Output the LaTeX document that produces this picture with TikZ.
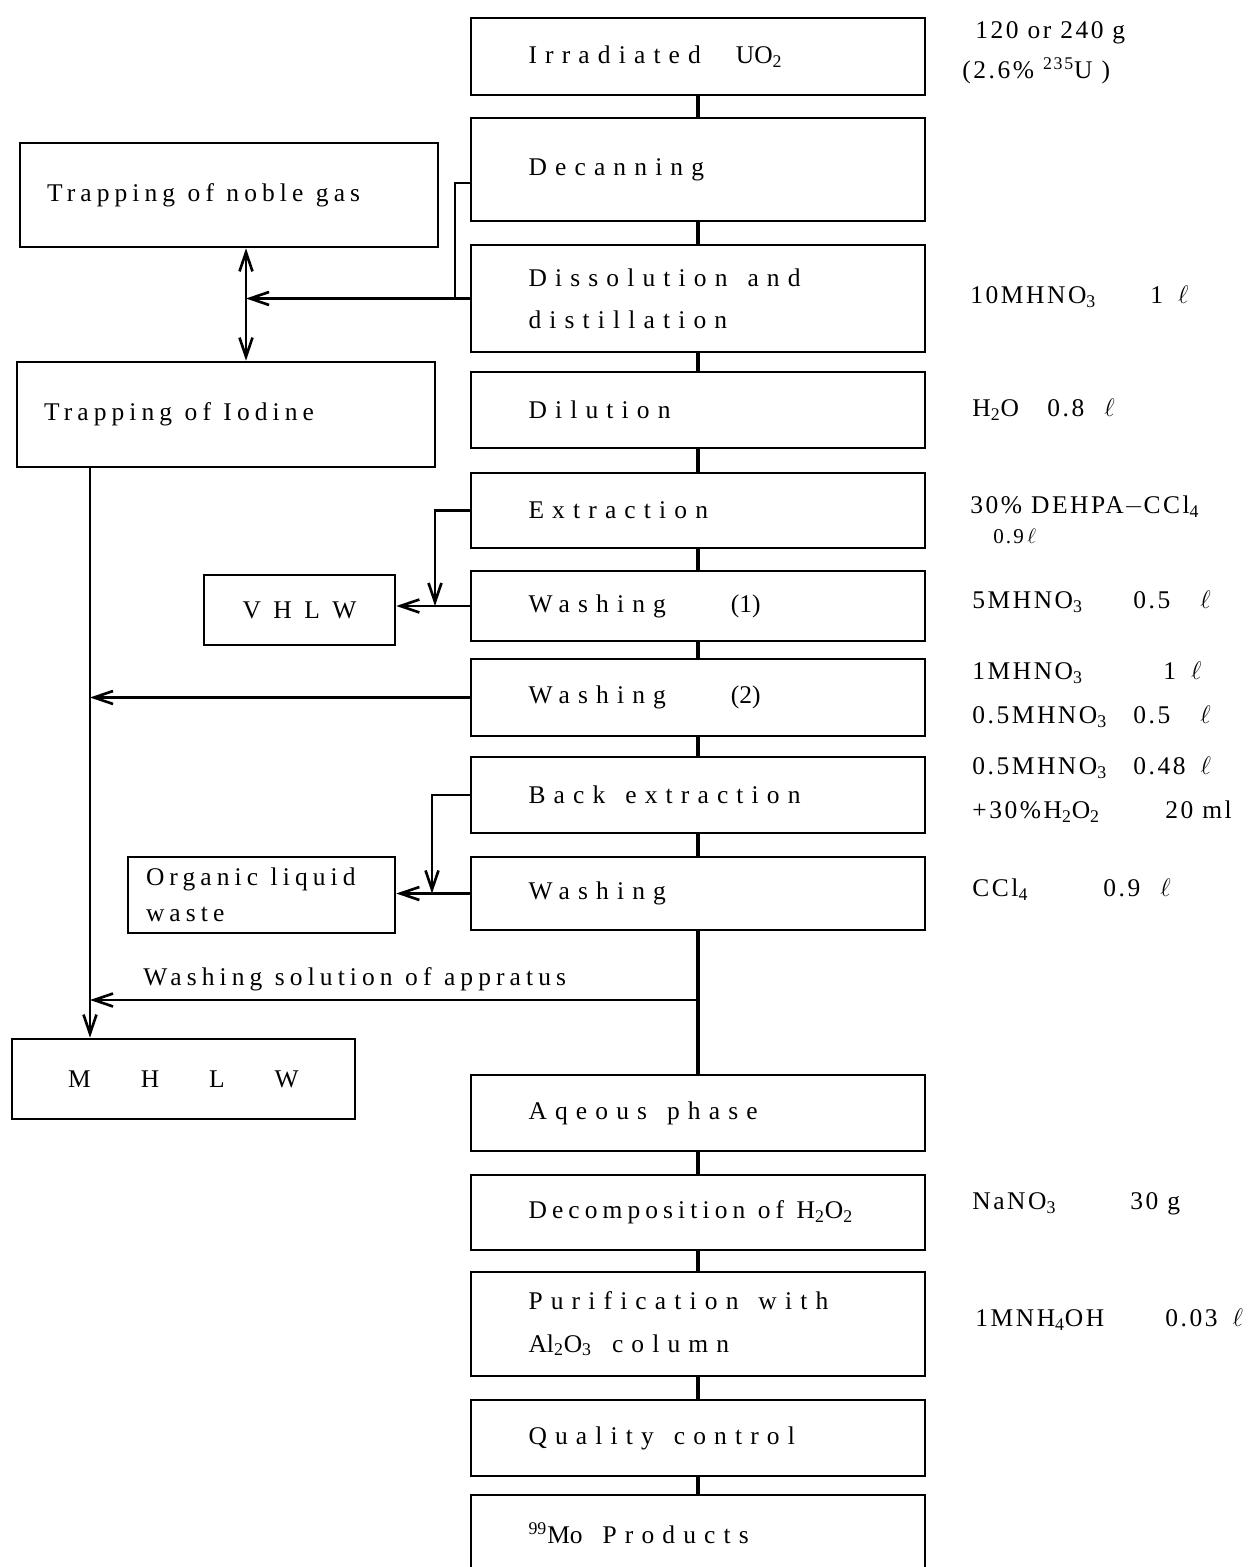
\documentclass[tikz,border=0pt]{standalone}
\usepackage{fontspec}
\setmainfont{Liberation Serif}
\newfontfamily\boxfont[LetterSpace=32]{Liberation Serif}
\newfontfamily\sidefont[LetterSpace=20]{Liberation Serif}
\newfontfamily\notefont[LetterSpace=10]{Liberation Serif}
\usetikzlibrary{arrows.meta}
\newcommand{\lowr}[1]{\textsubscript{#1}}
\newcommand{\litre}{$\ell$}
\newcommand{\bsp}{\hspace{0.4cm}}
\newcommand{\ssp}{\hspace{0.25cm}}
\tikzset{
	procbox/.style={draw,line width=1.5pt,minimum width=9.08cm,text width=6.78cm,inner xsep=1.15cm,align=left,font=\boxfont\fontsize{14.5pt}{24pt}\selectfont},
	wastebox/.style={draw,line width=1.5pt,font=\sidefont\fontsize{14.5pt}{20.5pt}\selectfont},
	note/.style={anchor=west,inner sep=0pt,align=left,font=\notefont\fontsize{14.5pt}{25pt}\selectfont},
	link/.style={line width=1.5pt},
	trunk/.style={line width=2pt}
}
\begin{document}
\begin{tikzpicture}[x=0.02cm,y=-0.02cm,>={Straight Barb[length=3.8mm,width=2.6mm]}]
	\useasboundingbox (0,0) rectangle (1251,1567);

	% draw main process column
	\node (uo2) at (698,56.5) [procbox,minimum height=1.54cm] {Irradiated\hspace{0.7cm}{\normalfont UO\lowr{2}}};
	\node (dec) at (698,169.5) [procbox,minimum height=2.06cm] {Decanning};
	\node (diss) at (698,298.5) [procbox,minimum height=2.14cm] {Dissolution\bsp and\\distillation};
	\node (dil) at (698,410) [procbox,minimum height=1.52cm] {Dilution};
	\node (ext) at (698,510.5) [procbox,minimum height=1.5cm] {Extraction};
	\node (wash1) at (698,606) [procbox,minimum height=1.4cm] {Washing{\normalfont\hspace{1.3cm}(1)}};
	\node (wash2) at (698,697.5) [procbox,minimum height=1.54cm] {Washing{\normalfont\hspace{1.3cm}(2)}};
	\node (bext) at (698,795) [procbox,minimum height=1.52cm] {Back\bsp extraction};
	\node (wash3) at (698,893.5) [procbox,minimum height=1.46cm] {Washing};
	\node (aq) at (698,1113) [procbox,minimum height=1.52cm] {Aqeous\bsp phase};
	\node (decomp) at (698,1212.5) [procbox,minimum height=1.5cm] {{\sidefont Decomposition\ssp of\ssp{\normalfont H\lowr{2}O\lowr{2}}}};
	\node (purif) at (698,1324) [procbox,minimum height=2.08cm] {Purification\bsp with\\{\normalfont Al\lowr{2}O\lowr{3}}\bsp column};
	\node (qc) at (698,1438) [procbox,minimum height=1.52cm] {Quality\bsp control};
	\node (mo) at (698,1533) [procbox,minimum height=1.52cm] {{\normalfont\textsuperscript{99}Mo}\bsp Products};

	% draw waste boxes on the left
	\node (noble) at (229,195) [wastebox,minimum width=8.36cm,minimum height=2.08cm,text width=7.28cm,inner xsep=0.54cm,align=left] {Trapping\ssp of\ssp noble\ssp gas};
	\node (iodine) at (226,414.5) [wastebox,minimum width=8.36cm,minimum height=2.1cm,text width=7.28cm,inner xsep=0.54cm,align=left] {Trapping\ssp of\ssp Iodine};
	\node (vhlw) at (299.5,610) [wastebox,minimum width=3.82cm,minimum height=1.4cm] {\normalfont V\hspace{0.25cm}H\hspace{0.25cm}L\hspace{0.25cm}W};
	\node (organic) at (261.5,895) [wastebox,minimum width=5.34cm,minimum height=1.52cm,text width=4.62cm,inner xsep=0.36cm,align=left] {Organic\ssp liquid\\waste};
	\node (mhlw) at (183.5,1079) [wastebox,minimum width=6.86cm,minimum height=1.6cm] {\normalfont M\hspace{1cm}H\hspace{1cm}L\hspace{1cm}W};

	% draw reagent notes on the right
	\node (n1) at (962,53) [note,font=\notefont\fontsize{14.5pt}{22.7pt}\selectfont] {\hspace{0.26cm}120 or 240 g\\(2.6\% \textsuperscript{235}U )};
	\node (n3) at (970,297) [note] {\makebox[3.6cm][l]{10MHNO\lowr{3}}1\hspace{0.3cm}\litre};
	\node (n4) at (972,410) [note] {\makebox[1.5cm][l]{H\lowr{2}O}0.8\hspace{0.4cm}\litre};
	\node (n5) at (970,520) [note,font=\notefont\fontsize{14.5pt}{17pt}\selectfont] {30\% DEHPA$-$CCl\lowr{4}\\\hspace{0.46cm}{\fontsize{12pt}{14pt}\selectfont 0.9\,\litre}};
	\node (n6) at (972,602) [note] {\makebox[3.22cm][l]{5MHNO\lowr{3}}0.5\hspace{0.6cm}\litre};
	\node (n7) at (972,694.5) [note] {\makebox[3.82cm][l]{1MHNO\lowr{3}}1\hspace{0.3cm}\litre\\\makebox[3.22cm][l]{0.5MHNO\lowr{3}}0.5\hspace{0.6cm}\litre};
	\node (n8) at (972,789.5) [note] {\makebox[3.22cm][l]{0.5MHNO\lowr{3}}0.48\hspace{0.3cm}\litre\\\makebox[3.86cm][l]{+30\%H\lowr{2}O\lowr{2}}20 ml};
	\node (n9) at (972,890) [note] {\makebox[2.62cm][l]{CCl\lowr{4}}0.9\hspace{0.4cm}\litre};
	\node (n11) at (972,1204) [note] {\makebox[3.16cm][l]{NaNO\lowr{3}}30 g};
	\node (n12) at (975,1320) [note] {\makebox[3.8cm][l]{1MNH\lowr{4}OH}0.03\hspace{0.3cm}\litre};

	% draw main flow connectors
	\foreach \a/\b in {uo2/dec,dec/diss,diss/dil,dil/ext,ext/wash1,wash1/wash2,wash2/bext,bext/wash3,wash3/aq,aq/decomp,decomp/purif,purif/qc,qc/mo}
	{
		\draw[trunk] (\a) -- (\b);
	}

	% draw off-gas lines
	\coordinate (gasjn) at (455,298.5);
	\coordinate (gasline) at (246,0);
	\draw[link] (dec.west |- 0,183) -| (gasjn);
	\draw[link,->] (diss.west) -- (gasline |- diss.west);
	\draw[link,<->] (gasline |- noble.south) -- (gasline |- iodine.north);

	% draw line to VHLW
	\coordinate (vjn) at (435,0);
	\draw[link,->] (ext.west) -| (vjn |- wash1.west);
	\draw[link,->] (wash1.west) -- (vhlw.east |- wash1.west);

	% draw line to organic liquid waste
	\coordinate (ojn) at (432,0);
	\draw[link,->] (bext.west) -| (ojn |- wash3.west);
	\draw[link,->] (wash3.west) -- (organic.east |- wash3.west);

	% draw drain line to MHLW
	\coordinate (drain) at (90,0);
	\coordinate (wsol) at (698,1000);
	\draw[link,->] (drain |- iodine.south) -- (drain |- mhlw.north);
	\draw[link,->] (wash2.west) -- (drain |- wash2.west);
	\draw[link,->] (wsol) -- (drain |- wsol);
	\node (wsollabel) at (143,979) [anchor=west,inner sep=0pt,font=\sidefont\fontsize{14.5pt}{17pt}\selectfont] {Washing\ssp solution\ssp of\ssp appratus};
\end{tikzpicture}
\end{document}
